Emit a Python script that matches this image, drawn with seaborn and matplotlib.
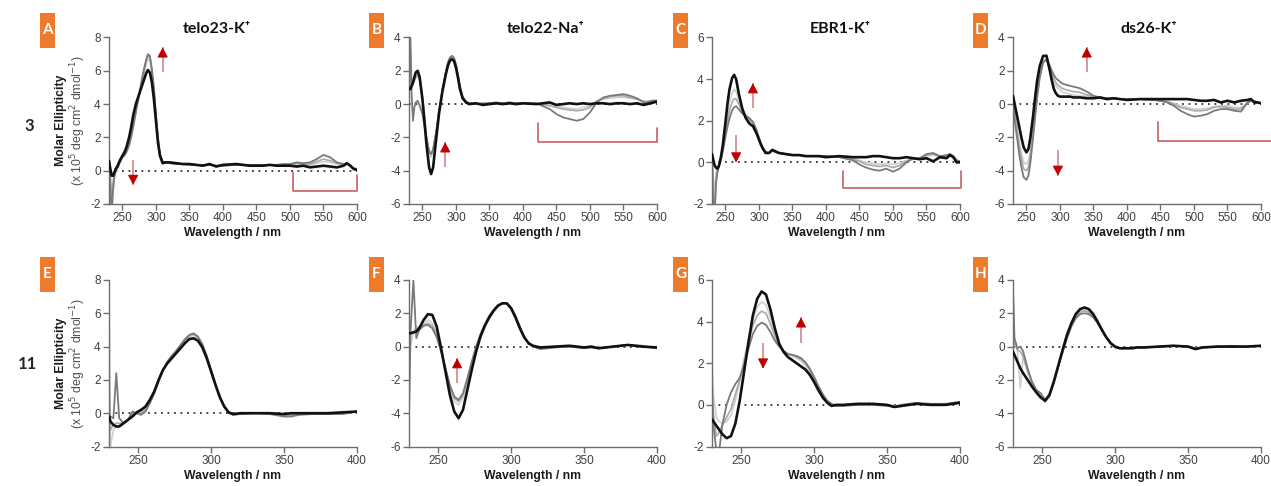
import numpy as np
import pandas as pd
import matplotlib
matplotlib.use("Agg")
import matplotlib.pyplot as plt
import seaborn as sns
from matplotlib.patches import Rectangle

# ---------------- data ----------------
W_TOP = [230, 232, 234, 236, 238, 240, 243, 246, 250, 253, 256, 260, 263, 266, 270,
         275, 280, 285, 288, 291, 294, 297, 300, 303, 306, 310, 315, 320, 330, 340,
         350, 360, 370, 380, 390, 400, 420, 440, 450, 460, 470, 480, 490, 500, 510,
         520, 530, 540, 550, 560, 570, 580, 585, 590, 595, 600]
W_BOT = [230, 231, 233, 235, 237, 240, 243, 246, 249, 252, 255, 258, 261, 264, 267,
         270, 273, 276, 279, 282, 285, 288, 291, 294, 297, 300, 303, 306, 309, 312,
         315, 320, 330, 340, 350, 355, 360, 370, 380, 390, 400]

# Panel A telo23-K+
A_black = [0.6, 0.1, -0.3, -0.3, -0.1, 0.1, 0.3, 0.6, 0.9, 1.1, 1.4, 2.0, 2.6, 3.3, 4.0,
           4.6, 5.2, 5.8, 6.05, 5.9, 5.3, 4.3, 3.0, 1.7, 0.9, 0.45, 0.5, 0.5, 0.45, 0.4,
           0.4, 0.35, 0.3, 0.4, 0.25, 0.35, 0.4, 0.3, 0.3, 0.3, 0.35, 0.3, 0.3, 0.3, 0.25,
           0.3, 0.2, 0.25, 0.3, 0.25, 0.2, 0.3, 0.45, 0.3, 0.1, 0.05]
A_dark = [0.7, -1.0, -2.5, -1.2, -0.4, 0.0, 0.2, 0.5, 0.8, 0.9, 1.1, 1.5, 2.0, 2.6, 3.5,
          4.6, 5.7, 6.6, 7.0, 6.9, 6.1, 5.0, 3.4, 2.0, 1.0, 0.55, 0.5, 0.45, 0.4, 0.4,
          0.35, 0.35, 0.35, 0.35, 0.3, 0.3, 0.35, 0.35, 0.35, 0.35, 0.35, 0.35, 0.4, 0.4, 0.5,
          0.45, 0.5, 0.7, 0.95, 0.8, 0.5, 0.4, 0.45, 0.3, 0.15, 0.1]
A_mid = [0.7, -0.5, -2.5, -0.8, -0.3, 0.0, 0.2, 0.5, 0.8, 1.0, 1.2, 1.6, 2.1, 2.7, 3.5,
         4.5, 5.6, 6.5, 6.9, 6.8, 6.0, 4.9, 3.3, 2.0, 1.0, 0.55, 0.5, 0.5, 0.45, 0.4,
         0.4, 0.35, 0.35, 0.35, 0.3, 0.3, 0.35, 0.3, 0.35, 0.35, 0.35, 0.35, 0.35, 0.35, 0.45,
         0.4, 0.4, 0.55, 0.7, 0.6, 0.45, 0.4, 0.4, 0.3, 0.15, 0.1]
A_light = [0.7, -0.2, -1.5, -0.6, -0.2, 0.0, 0.2, 0.5, 0.9, 1.0, 1.2, 1.7, 2.2, 2.8, 3.6,
           4.5, 5.5, 6.3, 6.7, 6.6, 5.9, 4.8, 3.3, 1.9, 1.0, 0.5, 0.5, 0.5, 0.45, 0.4,
           0.4, 0.35, 0.3, 0.35, 0.3, 0.3, 0.35, 0.3, 0.3, 0.3, 0.35, 0.3, 0.35, 0.35, 0.4,
           0.35, 0.35, 0.45, 0.55, 0.5, 0.4, 0.35, 0.4, 0.3, 0.15, 0.1]

# Panel B telo22-Na+
B_black = [0.9, 0.9, 1.1, 1.3, 1.6, 1.9, 2.0, 1.6, 0.3, -1.0, -2.4, -3.8, -4.2, -3.8, -2.3,
           -0.5, 0.8, 1.8, 2.3, 2.6, 2.7, 2.6, 2.2, 1.6, 0.9, 0.35, 0.1, 0.0, 0.05, -0.05,
           0.0, 0.05, 0.0, 0.05, 0.0, 0.05, 0.0, 0.1, -0.05, 0.0, 0.05, 0.0, 0.05, 0.0, 0.05,
           0.05, 0.0, 0.05, 0.05, 0.0, 0.05, -0.05, 0.0, 0.05, 0.1, 0.15]
B_dark = [0.8, 4.0, 0.5, -1.0, -0.2, 0.1, 0.2, -0.1, -0.6, -1.3, -2.0, -2.8, -3.0, -2.7, -1.8,
          -0.4, 0.9, 1.95, 2.5, 2.8, 2.9, 2.8, 2.4, 1.8, 1.1, 0.45, 0.15, 0.05, 0.0, 0.05,
          0.05, 0.1, 0.05, 0.1, 0.05, 0.05, 0.05, -0.3, -0.6, -0.8, -0.9, -1.0, -0.9, -0.5, 0.1,
          0.4, 0.5, 0.55, 0.6, 0.5, 0.35, 0.1, 0.1, 0.15, 0.2, 0.2]
B_mid = [1.0, 3.0, 1.0, 1.2, 1.4, 1.6, 1.7, 1.4, 0.4, -0.8, -2.0, -2.9, -3.0, -2.7, -1.8,
         -0.4, 0.9, 1.9, 2.45, 2.75, 2.85, 2.75, 2.35, 1.75, 1.0, 0.4, 0.15, 0.05, 0.05, 0.0,
         0.05, 0.05, 0.05, 0.05, 0.05, 0.05, 0.05, -0.1, -0.2, -0.3, -0.35, -0.4, -0.35, -0.2, 0.2,
         0.35, 0.45, 0.5, 0.5, 0.4, 0.3, 0.15, 0.15, 0.2, 0.2, 0.2]
B_light = [1.2, 4.0, 1.3, 1.4, 1.6, 1.7, 1.8, 1.5, 0.5, -0.7, -1.9, -3.0, -3.2, -2.9, -1.9,
           -0.5, 0.85, 1.9, 2.4, 2.7, 2.8, 2.7, 2.3, 1.7, 1.0, 0.4, 0.1, 0.05, 0.0, 0.0,
           0.05, 0.05, 0.05, 0.1, 0.05, 0.05, 0.0, 0.0, -0.1, -0.2, -0.25, -0.3, -0.2, -0.1, 0.15,
           0.3, 0.35, 0.4, 0.4, 0.35, 0.3, 0.2, 0.15, 0.2, 0.25, 0.2]

# Panel C EBR1-K+
C_black = [0.4, 0.1, -0.15, -0.25, -0.3, -0.2, 0.2, 0.8, 1.9, 2.8, 3.5, 4.05, 4.2, 4.0, 3.3,
           2.6, 2.15, 1.9, 1.8, 1.75, 1.55, 1.35, 1.1, 0.85, 0.65, 0.45, 0.45, 0.6, 0.45, 0.4,
           0.35, 0.35, 0.3, 0.3, 0.3, 0.25, 0.3, 0.25, 0.25, 0.25, 0.3, 0.3, 0.25, 0.2, 0.2,
           0.25, 0.2, 0.15, 0.2, 0.05, 0.25, 0.2, 0.35, 0.25, 0.0, 0.0]
C_dark = [0.3, -2.5, -2.5, -1.0, -0.5, -0.2, 0.1, 0.5, 1.2, 1.7, 2.1, 2.5, 2.65, 2.7, 2.55,
          2.35, 2.25, 2.15, 2.05, 1.95, 1.75, 1.5, 1.2, 0.9, 0.7, 0.5, 0.45, 0.55, 0.45, 0.4,
          0.35, 0.35, 0.3, 0.3, 0.3, 0.3, 0.25, 0.1, -0.1, -0.25, -0.35, -0.4, -0.3, -0.45, -0.3,
          0.0, 0.2, 0.2, 0.4, 0.45, 0.3, 0.35, 0.4, 0.3, 0.1, 0.05]
C_mid = [0.4, -1.5, -2.5, -0.8, -0.4, -0.2, 0.1, 0.6, 1.4, 2.0, 2.5, 2.9, 3.05, 3.05, 2.8,
         2.45, 2.25, 2.1, 2.0, 1.9, 1.7, 1.45, 1.15, 0.9, 0.7, 0.5, 0.45, 0.55, 0.45, 0.4,
         0.35, 0.35, 0.3, 0.3, 0.3, 0.3, 0.25, 0.15, 0.05, -0.1, -0.15, -0.2, -0.15, -0.25, -0.15,
         0.05, 0.15, 0.2, 0.35, 0.4, 0.3, 0.3, 0.4, 0.3, 0.1, 0.05]
C_light = [0.4, -0.8, -1.5, -0.5, -0.3, -0.2, 0.15, 0.7, 1.6, 2.3, 2.9, 3.3, 3.5, 3.4, 3.0,
           2.6, 2.25, 2.05, 1.95, 1.85, 1.65, 1.4, 1.15, 0.9, 0.65, 0.5, 0.45, 0.55, 0.45, 0.4,
           0.35, 0.35, 0.3, 0.3, 0.3, 0.3, 0.25, 0.2, 0.1, 0.0, -0.05, -0.1, -0.05, -0.1, -0.05,
           0.1, 0.15, 0.2, 0.3, 0.35, 0.25, 0.3, 0.35, 0.3, 0.1, 0.05]

# Panel D ds26-K+
D_black = [0.5, 0.1, -0.3, -0.7, -1.1, -1.5, -2.1, -2.6, -2.9, -2.7, -2.0, -0.7, 0.4, 1.4, 2.3,
           2.9, 2.9, 2.0, 1.4, 0.9, 0.65, 0.5, 0.45, 0.45, 0.45, 0.45, 0.45, 0.4, 0.4, 0.35,
           0.35, 0.4, 0.3, 0.35, 0.3, 0.25, 0.3, 0.3, 0.3, 0.3, 0.3, 0.3, 0.3, 0.25, 0.2,
           0.2, 0.25, 0.1, 0.2, 0.1, 0.2, 0.25, 0.3, 0.1, 0.1, 0.05]
D_dark = [0.0, -0.8, -1.4, -2.0, -2.6, -3.2, -3.9, -4.4, -4.55, -4.3, -3.5, -2.0, -0.8, 0.4, 1.6,
          2.5, 2.7, 2.3, 2.0, 1.75, 1.55, 1.45, 1.35, 1.25, 1.2, 1.15, 1.1, 1.05, 0.95, 0.75,
          0.5, 0.4, 0.35, 0.35, 0.3, 0.3, 0.3, 0.25, 0.2, 0.1, -0.1, -0.4, -0.6, -0.75, -0.7,
          -0.6, -0.4, -0.3, -0.3, -0.4, -0.45, 0.1, 0.2, 0.2, 0.1, 0.05]
D_mid = [0.2, -0.4, -1.0, -1.6, -2.2, -2.7, -3.4, -3.9, -4.0, -3.8, -3.1, -1.8, -0.6, 0.5, 1.7,
         2.5, 2.7, 2.1, 1.8, 1.5, 1.3, 1.15, 1.05, 0.95, 0.9, 0.85, 0.8, 0.75, 0.7, 0.55,
         0.45, 0.4, 0.35, 0.35, 0.3, 0.3, 0.3, 0.25, 0.2, 0.15, 0.0, -0.2, -0.3, -0.4, -0.4,
         -0.35, -0.2, -0.15, -0.2, -0.3, -0.3, 0.05, 0.2, 0.2, 0.1, 0.05]
D_light = [0.3, -0.2, -0.8, -1.3, -1.9, -2.4, -3.0, -3.5, -3.6, -3.4, -2.8, -1.6, -0.4, 0.7, 1.8,
           2.6, 2.7, 2.0, 1.6, 1.3, 1.1, 0.95, 0.85, 0.75, 0.7, 0.65, 0.6, 0.55, 0.5, 0.45,
           0.4, 0.35, 0.3, 0.3, 0.3, 0.3, 0.3, 0.25, 0.2, 0.15, 0.05, -0.1, -0.2, -0.3, -0.3,
           -0.25, -0.15, -0.1, -0.1, -0.2, -0.2, 0.1, 0.2, 0.15, 0.1, 0.05]

# Panel E telo23-K+ (ligand 11)
E_black = [-0.2, -0.5, -0.7, -0.8, -0.8, -0.6, -0.4, -0.2, 0.05, 0.2, 0.4, 0.8, 1.3, 2.0, 2.6,
           3.0, 3.3, 3.6, 3.9, 4.2, 4.45, 4.5, 4.35, 3.95, 3.3, 2.5, 1.7, 0.95, 0.4, 0.05,
           -0.05, 0.0, 0.0, 0.0, -0.05, 0.0, 0.0, 0.0, 0.0, 0.05, 0.1]
E_dark = [0.0, -0.2, -0.3, 2.4, -0.3, -0.6, -0.4, 0.1, 0.0, -0.1, 0.1, 0.6, 1.2, 1.9, 2.6,
          3.1, 3.45, 3.75, 4.1, 4.45, 4.7, 4.8, 4.6, 4.15, 3.45, 2.6, 1.75, 1.0, 0.4, 0.05,
          -0.1, -0.05, 0.0, -0.05, -0.2, -0.2, -0.1, -0.05, -0.05, -0.05, 0.1]
E_mid = [2.0, -1.0, -0.7, -0.6, -0.6, -0.6, -0.4, 0.0, 0.05, 0.0, 0.2, 0.6, 1.2, 1.9, 2.55,
         3.0, 3.4, 3.7, 4.0, 4.4, 4.65, 4.75, 4.55, 4.1, 3.4, 2.55, 1.7, 1.0, 0.4, 0.05,
         -0.1, -0.05, 0.0, 0.0, -0.15, -0.15, -0.05, -0.05, -0.05, 0.0, 0.1]
E_light = [8.0, -2.0, -1.0, -0.8, -0.7, -0.6, -0.4, -0.1, 0.0, 0.05, 0.3, 0.7, 1.3, 2.0, 2.6,
           3.0, 3.35, 3.65, 4.0, 4.3, 4.6, 4.7, 4.5, 4.05, 3.35, 2.5, 1.7, 0.95, 0.4, 0.05,
           -0.05, 0.0, 0.0, 0.0, -0.1, -0.1, -0.05, 0.0, -0.05, 0.0, 0.1]

# Panel F telo22-Na+ (ligand 11)
F_black = [0.8, 0.8, 0.85, 0.9, 1.1, 1.6, 1.95, 1.9, 1.2, -0.1, -1.5, -2.9, -3.9, -4.3, -3.8,
           -2.6, -1.4, -0.3, 0.6, 1.25, 1.75, 2.15, 2.45, 2.6, 2.6, 2.3, 1.75, 1.1, 0.55, 0.2,
           0.05, -0.05, 0.0, 0.05, -0.05, 0.0, -0.1, 0.0, 0.1, 0.0, -0.05]
F_dark = [-4.0, 0.8, 4.0, 0.5, 1.0, 1.25, 1.3, 1.1, 0.55, -0.3, -1.3, -2.3, -3.0, -3.2, -2.8,
          -1.9, -0.9, 0.0, 0.75, 1.35, 1.85, 2.2, 2.5, 2.6, 2.6, 2.35, 1.85, 1.2, 0.6, 0.2,
          0.0, -0.15, -0.05, 0.0, -0.1, -0.05, -0.1, 0.0, 0.1, 0.05, -0.1]
F_mid = [0.8, 0.8, 0.9, 1.0, 1.2, 1.3, 1.4, 1.25, 0.7, -0.2, -1.3, -2.4, -3.1, -3.3, -2.9,
         -2.0, -1.0, -0.05, 0.7, 1.3, 1.8, 2.2, 2.5, 2.6, 2.6, 2.3, 1.8, 1.15, 0.6, 0.2,
         0.0, -0.1, -0.05, 0.0, -0.05, -0.05, -0.1, 0.0, 0.1, 0.0, -0.1]
F_light = [-4.2, 0.0, 0.9, 1.1, 1.2, 1.4, 1.6, 1.4, 0.8, -0.15, -1.4, -2.5, -3.3, -3.5, -3.1,
           -2.1, -1.1, -0.1, 0.7, 1.3, 1.8, 2.2, 2.5, 2.6, 2.6, 2.3, 1.8, 1.15, 0.6, 0.2,
           0.0, -0.1, 0.0, 0.0, -0.05, 0.0, -0.05, 0.0, 0.1, 0.0, -0.05]

# Panel G EBR1-K+ (ligand 11)
G_black = [-0.7, -0.8, -1.0, -1.2, -1.4, -1.6, -1.5, -0.9, 0.2, 1.6, 3.0, 4.3, 5.1, 5.45, 5.3,
           4.6, 3.7, 2.95, 2.55, 2.3, 2.15, 2.0, 1.85, 1.7, 1.45, 1.1, 0.7, 0.35, 0.1, -0.05,
           0.0, 0.0, 0.05, 0.05, 0.0, -0.1, -0.05, 0.05, 0.0, 0.0, 0.1]
G_dark = [0.5, -1.0, -2.2, -2.2, -1.0, 0.0, 0.6, 1.0, 1.3, 1.9, 2.7, 3.4, 3.8, 3.95, 3.85,
          3.5, 3.1, 2.8, 2.6, 2.45, 2.4, 2.35, 2.25, 2.05, 1.75, 1.35, 0.9, 0.5, 0.2, 0.05,
          -0.05, -0.05, 0.0, 0.0, -0.05, -0.1, 0.0, 0.1, 0.05, 0.05, 0.15]
G_mid = [1.0, -0.5, -1.5, -1.3, -1.0, -0.6, -0.2, 0.5, 1.2, 2.1, 3.0, 3.8, 4.3, 4.5, 4.4,
         3.9, 3.3, 2.85, 2.6, 2.45, 2.4, 2.3, 2.2, 2.0, 1.7, 1.3, 0.85, 0.45, 0.15, 0.0,
         -0.05, 0.0, 0.0, 0.05, 0.0, -0.1, 0.0, 0.05, 0.05, 0.0, 0.1]
G_light = [2.0, 0.5, -0.6, -0.8, -0.9, -0.8, -0.5, 0.2, 1.1, 2.2, 3.2, 4.1, 4.7, 4.95, 4.8,
           4.2, 3.5, 2.9, 2.6, 2.45, 2.35, 2.25, 2.1, 1.9, 1.6, 1.2, 0.8, 0.4, 0.15, 0.0,
           0.0, 0.0, 0.05, 0.05, 0.0, -0.05, 0.0, 0.05, 0.0, 0.0, 0.1]

# Panel H ds26-K+ (ligand 11)
H_black = [-0.3, -0.5, -0.9, -1.3, -1.6, -2.0, -2.4, -2.75, -3.05, -3.25, -2.9, -2.1, -1.15, -0.2, 0.7,
           1.4, 1.95, 2.25, 2.35, 2.25, 1.95, 1.5, 1.0, 0.55, 0.2, 0.0, -0.1, -0.1, -0.1, -0.1,
           -0.05, -0.05, 0.0, 0.05, 0.0, -0.15, -0.05, 0.0, 0.0, 0.0, 0.05]
H_dark = [3.5, 0.5, -0.1, 0.0, -0.3, -1.3, -2.1, -2.6, -2.8, -3.2, -2.9, -2.1, -1.2, -0.35, 0.5,
          1.2, 1.7, 1.95, 2.0, 1.95, 1.75, 1.4, 0.95, 0.55, 0.2, -0.05, -0.1, -0.1, -0.1, -0.05,
          -0.05, -0.05, 0.0, 0.05, 0.0, -0.1, -0.05, 0.0, 0.05, 0.0, 0.05]
H_mid = [1.5, 0.2, -0.2, -0.3, -0.6, -1.5, -2.2, -2.7, -3.0, -3.3, -2.95, -2.1, -1.2, -0.3, 0.55,
         1.25, 1.75, 2.05, 2.15, 2.05, 1.8, 1.45, 1.0, 0.55, 0.2, 0.0, -0.1, -0.1, -0.1, -0.05,
         -0.05, -0.05, 0.0, 0.05, 0.0, -0.1, -0.05, 0.0, 0.0, 0.0, 0.05]
H_light = [3.0, 0.5, -0.2, -2.5, -0.5, -1.4, -2.2, -2.7, -3.1, -3.35, -3.0, -2.2, -1.25, -0.3, 0.6,
           1.3, 1.8, 2.1, 2.2, 2.1, 1.85, 1.45, 1.0, 0.55, 0.2, 0.0, -0.1, -0.1, -0.1, -0.1,
           -0.05, -0.05, 0.0, 0.05, 0.0, -0.1, -0.05, 0.0, 0.0, 0.0, 0.05]

PANEL_LETTERS = ["A", "B", "C", "D", "E", "F", "G", "H"]
COLUMN_TITLES = ["telo23-K\u207a", "telo22-Na\u207a", "EBR1-K\u207a", "ds26-K\u207a"]
ROW_LABELS = ["3", "11"]
Y_LIMITS = [(-2, 8), (-6, 4), (-2, 6), (-6, 4), (-2, 8), (-6, 4), (-2, 6), (-6, 4)]

# arrows: (x, y_tail, y_head) in data units
ARROWS = {
    "A": [(310, 5.9, 7.4), (266, 0.65, -0.85)],
    "B": [(284, -3.8, -2.3)],
    "C": [(291, 2.6, 3.8), (266, 1.3, 0.0)],
    "D": [(340, 1.9, 3.4), (297, -2.75, -4.3)],
    "F": [(263, -2.2, -0.7)],
    "G": [(291, 2.95, 4.2), (265, 2.95, 1.75)],
}
# brackets: x_left, x_right, y_left_top, y_bottom, y_right_top (None = open)
BRACKETS = {
    "A": (504, 600, -0.05, -1.2, -0.25),
    "B": (423, 600, -1.15, -2.25, -1.45),
    "C": (425, 602, -0.4, -1.25, -0.4),
    "D": (446, 620, -1.1, -2.2, None),
}

# ---------------- style ----------------
sns.set_style("ticks")
plt.rcParams["font.family"] = ["Liberation Sans", "DejaVu Sans"]
plt.rcParams["axes.unicode_minus"] = False

FW, FH = 1271, 486
fig = plt.figure(figsize=(FW / 100, FH / 100), dpi=100)
fig.patch.set_facecolor("white")

def fx(x):
    return x / FW

def fy(y):
    return 1 - y / FH

col_left = [109, 409, 712, 1013]
ax_w = 248
rows = [(37.5, 204), (280, 446.5)]

curves_by_panel = {
    "A": (W_TOP, A_light, A_mid, A_dark, A_black),
    "B": (W_TOP, B_light, B_mid, B_dark, B_black),
    "C": (W_TOP, C_light, C_mid, C_dark, C_black),
    "D": (W_TOP, D_light, D_mid, D_dark, D_black),
    "E": (W_BOT, E_light, E_mid, E_dark, E_black),
    "F": (W_BOT, F_light, F_mid, F_dark, F_black),
    "G": (W_BOT, G_light, G_mid, G_dark, G_black),
    "H": (W_BOT, H_light, H_mid, H_dark, H_black),
}
styles = [("#cfcfcf", 1.2), ("#a9a9a9", 1.2), ("#7a7a7a", 1.3), ("#111111", 1.9)]
names = ["light", "mid", "dark", "final"]

AX_GREY = "#6e6e6e"
TXT_GREY = "#404040"
RED = "#c00000"
SHAFT = "#d27a7a"
BRACKET_C = "#c8605c"
ORANGE = "#ee7a2b"

for i, letter in enumerate(PANEL_LETTERS):
    r, c = divmod(i, 4)
    top, bot = rows[r]
    left = col_left[c]
    ax = fig.add_axes([fx(left), fy(bot), ax_w / FW, (bot - top) / FH])
    wl, *series = curves_by_panel[letter]
    df = pd.DataFrame({"wl": np.tile(wl, 4),
                       "val": np.concatenate(series),
                       "curve": np.repeat(names, len(wl))})
    ax.axhline(0, color="#333333", lw=1.3, ls=(0, (1, 2.6)), zorder=1)
    for name, (colr, lw) in zip(names, styles):
        sub = df[df["curve"] == name]
        sns.lineplot(data=sub, x="wl", y="val", color=colr, lw=lw, ax=ax,
                     sort=False, estimator=None, legend=False, zorder=3 if name == "final" else 2)
    xmax = 600 if r == 0 else 400
    ax.set_xlim(230, xmax)
    ax.set_ylim(*Y_LIMITS[i])
    ax.set_xticks(np.arange(250, xmax + 1, 50))
    lo, hi = Y_LIMITS[i]
    ax.set_yticks(np.arange(lo, hi + 1, 2))
    for s in ["top", "right"]:
        ax.spines[s].set_visible(False)
    for s in ["left", "bottom"]:
        ax.spines[s].set_color(AX_GREY)
        ax.spines[s].set_linewidth(1.0)
    ax.tick_params(axis="both", colors=AX_GREY, labelcolor=TXT_GREY, labelsize=8.5,
                   length=4, width=1.0, direction="out", pad=2)
    ax.set_xlabel("Wavelength / nm", fontsize=8.8, fontweight="bold", color="#1a1a1a", labelpad=2)
    ax.set_ylabel("")
    ax.set_facecolor("none")

    for (xa, yt, yh) in ARROWS.get(letter, []):
        sign = 1 if yh > yt else -1
        ax.plot([xa, xa], [yt, yh], color=SHAFT, lw=1.1, zorder=5, solid_capstyle="butt")
        ax.annotate("", xy=(xa, yh), xytext=(0, -5.5 * sign), textcoords="offset points",
                    arrowprops=dict(arrowstyle="-|>,head_length=0.6,head_width=0.32",
                                    color=RED, lw=0.8, shrinkA=0, shrinkB=0,
                                    mutation_scale=10), zorder=6)
    if letter in BRACKETS:
        x0, x1, yl, yb, yr = BRACKETS[letter]
        bx = [x0, x0, x1] + ([x1] if yr is not None else [])
        by = [yl, yb, yb] + ([yr] if yr is not None else [])
        ax.plot(bx, by, color=BRACKET_C, lw=1.2, clip_on=False, zorder=4)

    # orange letter box
    bx_left = [40, 369, 673, 973][c]
    by_top = [13, 257][r]
    fig.patches.append(Rectangle((fx(bx_left), fy(by_top + 35)), 15 / FW, 35 / FH,
                                 transform=fig.transFigure, facecolor=ORANGE,
                                 edgecolor="none"))
    fig.text(fx(bx_left + 7.5), fy(by_top + 17.5), letter, ha="center", va="center",
             color="white", fontsize=11, fontweight="bold", family=["Lato", "DejaVu Sans"])

# column titles
title_x = [217, 546, 840, 1149]
for t, x in zip(COLUMN_TITLES, title_x):
    fig.text(fx(x), fy(29), t, ha="center", va="center", fontsize=11.5,
             fontweight="bold", family=["Lato", "DejaVu Sans"], color="#111111")

# row labels
fig.text(fx(29), fy(126), ROW_LABELS[0], ha="center", va="center", fontsize=12,
         fontweight="bold", family=["Lato", "DejaVu Sans"])
fig.text(fx(27), fy(364), ROW_LABELS[1], ha="center", va="center", fontsize=12,
         fontweight="bold", family=["Lato", "DejaVu Sans"])

# y labels
for yc in [120, 363]:
    fig.text(fx(61), fy(yc), "Molar Ellipticity", rotation=90, ha="center", va="center",
             fontsize=8.8, fontweight="bold", color="#1a1a1a")
    fig.text(fx(78), fy(yc), r"(x 10$^5$ deg cm$^2$ dmol$^{-1}$)", rotation=90,
             ha="center", va="center", fontsize=8.8, color="#505050")

fig.savefig("out.png", dpi=100, facecolor="white")
